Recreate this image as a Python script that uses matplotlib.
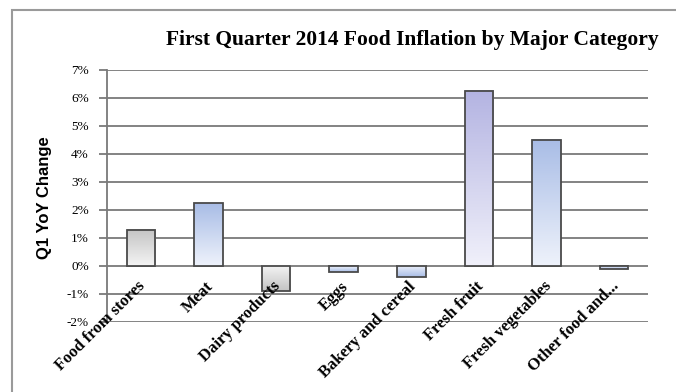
import numpy as np
import matplotlib
matplotlib.use("Agg")
import matplotlib.pyplot as plt
from matplotlib.patches import Rectangle
from matplotlib.colors import LinearSegmentedColormap

categories = ["Food from stores", "Meat", "Dairy products", "Eggs",
              "Bakery and cereal", "Fresh fruit", "Fresh vegetables", "Other food and..."]
values = [1.3, 2.25, -0.9, -0.2, -0.4, 6.25, 4.5, -0.1]
yticks = [-2, -1, 0, 1, 2, 3, 4, 5, 6, 7]

SERIF = ["Liberation Serif", "DejaVu Serif"]

fig = plt.figure(figsize=(6.76, 3.92), dpi=100)
fig.patch.set_facecolor("white")
# grey frame around the chart
fig.patches.append(Rectangle((12 / 676, -0.01), 1.0, 1 - 10 / 392 + 0.01, transform=fig.transFigure,
                             fill=False, edgecolor="#9a9a9a", lw=1.5))

ax = fig.add_axes([107 / 676, 1 - 322 / 392, 541 / 676, 252 / 392])

for y in yticks:
    ax.axhline(y, color="#7a7a7a", lw=1.3, zorder=1)

gray = LinearSegmentedColormap.from_list("g", ["#c4c4c4", "#f4f4f4"])
blue = LinearSegmentedColormap.from_list("b", ["#a9bde6", "#eef2fb"])
lav = LinearSegmentedColormap.from_list("l", ["#b4b4e2", "#f0f0fa"])
cmaps = [gray, blue, gray, blue, blue, lav, blue, blue]

w = 0.42
grad = np.linspace(0, 1, 64).reshape(-1, 1)
bars = ax.bar(range(len(values)), values, width=w, facecolor="none",
              edgecolor="#4a4a4a", lw=1.3, zorder=3)
for b, cm in zip(bars, cmaps):
    x0, y0 = b.get_x(), b.get_y()
    h = b.get_height()
    lo, hi = min(y0, y0 + h), max(y0, y0 + h)
    ax.imshow(grad, cmap=cm, aspect="auto", extent=(x0, x0 + w, lo, hi),
              origin="upper" if h >= 0 else "lower", zorder=2)
ax.set_xlim(-0.5, 7.5)
ax.set_ylim(-2, 7)

ax.set_yticks(yticks)
ax.set_yticklabels([f"{v}%" for v in yticks], family=SERIF, fontsize=9.5)
ax.tick_params(axis="y", length=6, width=1.3, color="#7a7a7a", direction="out", pad=7)
ax.set_xticks([])
# category labels sit next to the 0% line, as in the original
for i, name in enumerate(categories):
    ax.annotate(name, xy=(i + 0.03, 0), xytext=(0, -13), textcoords="offset points",
                rotation=45, ha="right", va="center", rotation_mode="anchor",
                family=SERIF, fontsize=12, fontweight="bold", annotation_clip=False)
for s in ["top", "right", "bottom"]:
    ax.spines[s].set_visible(False)
ax.spines["left"].set_color("#7a7a7a")
ax.spines["left"].set_linewidth(1.3)

fig.text(412 / 676, 1 - 40 / 392, "First Quarter 2014 Food Inflation by Major Category",
         ha="center", va="center", family=SERIF, fontsize=15.5, fontweight="bold")
fig.text(45 / 676, 1 - 198 / 392, "Q1 YoY Change", rotation=90, ha="center", va="center",
         fontsize=12, fontweight="bold", family=["Liberation Sans", "DejaVu Sans"])

fig.savefig("out.png", dpi=100)
